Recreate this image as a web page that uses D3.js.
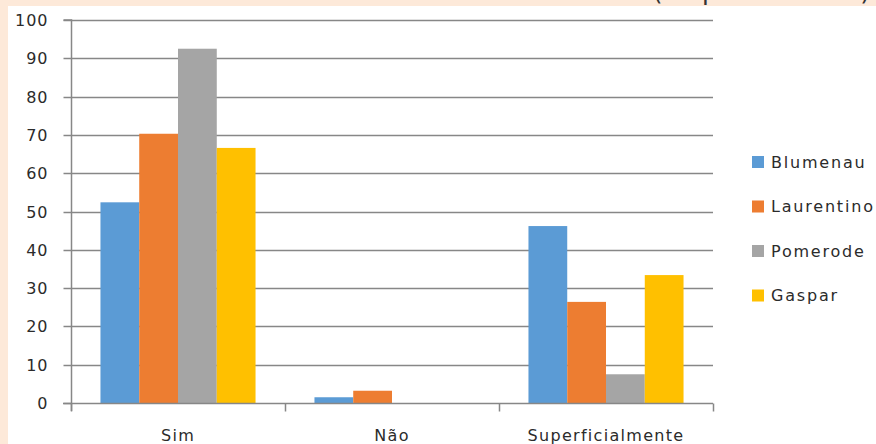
<!DOCTYPE html>
<html>
<head>
<meta charset="utf-8">
<script src="https://cdn.jsdelivr.net/npm/d3@7"></script>
<style>
  html, body { margin: 0; padding: 0; background: #FDE9D9; overflow: hidden; }
  svg { display: block; }
</style>
</head>
<body>
<svg id="chart" width="876" height="444"></svg>
<script>
const titleText = "Gráfico 3: Contato com material da FURB (% por cidade)";
const categories = ["Sim", "Não", "Superficialmente"];
const seriesNames = ["Blumenau", "Laurentino", "Pomerode", "Gaspar"];
const seriesColors = ["#5B9BD5", "#ED7D31", "#A5A5A5", "#FFC000"];
const blumenau   = [52.4, 1.5, 46.2];
const laurentino = [70.3, 3.2, 26.4];
const pomerode   = [92.5, 0, 7.5];
const gaspar     = [66.6, 0, 33.4];
const seriesValues = [blumenau, laurentino, pomerode, gaspar];
const yTicks = [0, 10, 20, 30, 40, 50, 60, 70, 80, 90, 100];

const svg = d3.select("#chart");
const W = 876, H = 444;
const plot = { left: 71, right: 713, top: 20, bottom: 403 };

// white chart panel
svg.append("rect").attr("x", 8).attr("y", 6).attr("width", W - 8).attr("height", H - 6).attr("fill", "#ffffff");

// title (mostly cut off at top, as in the reference)
svg.append("text")
  .attr("x", 28).attr("y", 0)
  .attr("text-anchor", "start")
  .attr("font-family", "DejaVu Sans, sans-serif")
  .attr("font-size", 25)
  .attr("fill", "#333")
  .attr("textLength", 842)
  .attr("lengthAdjust", "spacing")
  .text(titleText);

const y = d3.scaleLinear().domain([0, 100]).range([plot.bottom, plot.top]);
const x0 = d3.scaleBand().domain(categories).range([plot.left, plot.right]).paddingInner(0).paddingOuter(0);
const x1 = d3.scaleBand().domain(seriesNames).range([0, x0.bandwidth()]).paddingInner(0).paddingOuter(0.76);

// gridlines
svg.append("g").selectAll("line").data(yTicks.filter(d => d > 0)).join("line")
  .attr("x1", plot.left).attr("x2", plot.right)
  .attr("y1", d => Math.round(y(d)) + 0.5).attr("y2", d => Math.round(y(d)) + 0.5)
  .attr("stroke", "#878787").attr("stroke-width", 1.5);

// y axis
const yAxis = d3.axisLeft(y).tickValues(yTicks).tickSize(8).tickPadding(15).tickFormat(d3.format("d"));
const gy = svg.append("g").attr("transform", `translate(${plot.left + 0.5},0)`).call(yAxis);
gy.select(".domain").attr("stroke", "#878787").attr("stroke-width", 1.5).attr("d", `M-8,${plot.top}H0V${plot.bottom + 8}`);
gy.selectAll(".tick line").attr("stroke", "#878787").attr("stroke-width", 1.5);
gy.selectAll(".tick").attr("transform", d => `translate(0,${Math.round(y(d)) + 0.5})`);
gy.selectAll(".tick text")
  .attr("font-family", "DejaVu Sans, sans-serif").attr("font-size", 16)
  .attr("letter-spacing", "1px")
  .attr("fill", "#2b2b2b");

// bars
const groups = svg.append("g").selectAll("g").data(categories).join("g")
  .attr("transform", d => `translate(${x0(d)},0)`);
groups.selectAll("rect")
  .data((c, ci) => seriesNames.map((s, si) => ({ s, si, v: seriesValues[si][ci] })))
  .join("rect")
  .attr("x", d => x1(d.s))
  .attr("width", x1.bandwidth())
  .attr("y", d => y(d.v))
  .attr("height", d => y(0) - y(d.v))
  .attr("fill", d => seriesColors[d.si]);

// x axis
const xAxisG = svg.append("g").attr("transform", `translate(0,${plot.bottom + 0.5})`);
xAxisG.append("line").attr("x1", plot.left - 8).attr("x2", plot.right).attr("y1", 0).attr("y2", 0)
  .attr("stroke", "#878787").attr("stroke-width", 1.5);
const boundaries = categories.map(c => x0(c)).concat([x0(categories[categories.length - 1]) + x0.bandwidth()]);
xAxisG.selectAll("line.tk").data(boundaries).join("line").attr("class", "tk")
  .attr("x1", d => Math.round(d) + 0.5).attr("x2", d => Math.round(d) + 0.5)
  .attr("y1", 0).attr("y2", 8)
  .attr("stroke", "#878787").attr("stroke-width", 1.5);
xAxisG.selectAll("text").data(categories).join("text")
  .attr("x", d => x0(d) + x0.bandwidth() / 2)
  .attr("y", 37)
  .attr("text-anchor", "middle")
  .attr("font-family", "DejaVu Sans, sans-serif").attr("font-size", 16)
  .attr("letter-spacing", "1.3px")
  .attr("fill", "#2b2b2b")
  .text(d => d);

// legend
const legend = svg.append("g").attr("transform", "translate(752,0)");
const rowY = d3.scalePoint().domain(seriesNames).range([162, 295.5]);
const items = legend.selectAll("g").data(seriesNames).join("g")
  .attr("transform", d => `translate(0,${rowY(d)})`);
items.append("rect").attr("x", 0).attr("y", -6).attr("width", 12).attr("height", 12)
  .attr("fill", (d, i) => seriesColors[i]);
items.append("text").attr("x", 19).attr("y", 0).attr("dy", "0.36em")
  .attr("font-family", "DejaVu Sans, sans-serif").attr("font-size", 16)
  .attr("letter-spacing", "1.8px")
  .attr("fill", "#2b2b2b")
  .text(d => d);
</script>
</body>
</html>
